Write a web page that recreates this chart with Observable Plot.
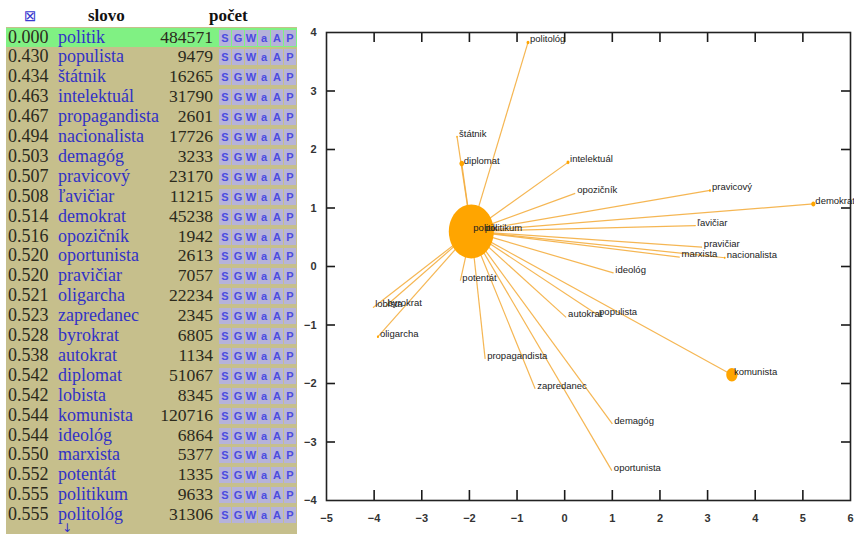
<!DOCTYPE html>
<html><head><meta charset="utf-8">
<script src="https://cdn.jsdelivr.net/npm/d3@7"></script>
<script src="https://cdn.jsdelivr.net/npm/@observablehq/plot@0.6"></script>
<style>
body{margin:0;background:#fff;}
#wrap{position:relative;width:854px;height:534px;overflow:hidden;background:#fff;}
#tbl{position:absolute;left:6px;top:0;width:291px;height:534px;font-family:"Liberation Serif","Times New Roman",serif;}
#head{position:absolute;left:0;top:0;width:291px;height:27px;background:#fff;}
#body{position:absolute;top:27px;left:0;width:291px;bottom:0;background:#c6bf8c;}
.row{position:absolute;left:0;width:291px;height:19.9px;font-size:18px;line-height:19.9px;}
.sc{position:absolute;left:2px;color:#2b2a1c;}
.wd{position:absolute;left:52px;color:#3232c6;}
.ct{position:absolute;left:130px;width:77px;text-align:right;color:#2b2a1c;font-size:17.6px;}
.bt{position:absolute;top:2px;width:12px;height:16px;background:#b6b3d9;color:#4b4be0;font:bold 11px/16px "Liberation Sans",Arial,sans-serif;text-align:center;}
.hd{position:absolute;top:6px;font-weight:bold;font-size:17px;color:#111;}
#chart{position:absolute;left:297px;top:0;}
</style>
</head><body>
<div id="wrap">
  <div id="tbl"><div id="head"></div><div id="body"></div></div>
  <div id="chart"></div>
</div>
<script>
// ---- data ----
const words = ["politik","populista","štátnik","intelektuál","propagandista","nacionalista","demagóg","pravicový","ľavičiar","demokrat","opozičník","oportunista","pravičiar","oligarcha","zapredanec","byrokrat","autokrat","diplomat","lobista","komunista","ideológ","marxista","potentát","politikum","politológ"];
const scores = ["0.000","0.430","0.434","0.463","0.467","0.494","0.503","0.507","0.508","0.514","0.516","0.520","0.520","0.521","0.523","0.528","0.538","0.542","0.542","0.544","0.544","0.550","0.552","0.555","0.555"];
const counts = [484571,9479,16265,31790,2601,17726,3233,23170,11215,45238,1942,2613,7057,22234,2345,6805,1134,51067,8345,120716,6864,5377,1335,9633,31306];
const posX = [-1.96,0.68,-2.26,0.07,-1.67,3.36,1.0,3.05,2.74,5.22,0.22,0.99,2.88,-3.92,-0.62,-3.76,0.03,-2.16,-4.02,3.51,1.02,2.41,-2.19,-1.72,-0.77];
const posY = [0.60,-0.82,2.22,1.78,-1.58,0.15,-2.69,1.30,0.70,1.07,1.25,-3.49,0.33,-1.20,-2.09,-0.68,-0.87,1.76,-0.70,-1.85,-0.11,0.16,-0.24,0.60,3.83];
const linkLetters = ["S","G","W","a","A","P"];
const xTicks = [-5,-4,-3,-2,-1,0,1,2,3,4,5,6];
const yTicks = [-4,-3,-2,-1,0,1,2,3,4];

// ---- table ----
const head = d3.select("#head");
head.append("div").attr("class","hd").style("left","18px").style("top","7px")
  .style("font-family","'DejaVu Sans',sans-serif").style("font-weight","normal").style("font-size","15px").style("color","#3a3ad0").text("⊠");
head.append("div").attr("class","hd").style("left","82px").text("slovo");
head.append("div").attr("class","hd").style("left","203px").text("počet");

const body = d3.select("#body");
words.forEach((w,i)=>{
  const r = body.append("div").attr("class","row").style("top",(0.5+i*19.9)+"px");
  if(i===0) r.style("background","#80f183");
  r.append("span").attr("class","sc").text(scores[i]);
  r.append("span").attr("class","wd").text(w);
  r.append("span").attr("class","ct").text(counts[i]);
  linkLetters.forEach((l,j)=>{
    r.append("span").attr("class","bt").style("left",(213+j*13)+"px").text(l);
  });
});
body.append("div").style("position","absolute").style("left","56px").style("top",(words.length*19.9-3)+"px")
  .style("font","12px/12px 'DejaVu Sans',sans-serif").style("color","#3232c6").text("↓");

// ---- chart ----
const W = 557, H = 534, mL = 29, mR = 4, mT = 32, mB = 34;
const fw = W - mL - mR, fh = H - mT - mB;
const data = words.map((w,i)=>({word:w,count:counts[i],x:posX[i],y:posY[i]}));
const ellipse = {draw(ctx,size){
  const r=Math.sqrt(size/Math.PI), rx=r*0.9, ry=r*1.08, k=0.5523;
  ctx.moveTo(rx,0);
  ctx.bezierCurveTo(rx,ry*k,rx*k,ry,0,ry);
  ctx.bezierCurveTo(-rx*k,ry,-rx,ry*k,-rx,0);
  ctx.bezierCurveTo(-rx,-ry*k,-rx*k,-ry,0,-ry);
  ctx.bezierCurveTo(rx*k,-ry,rx,-ry*k,rx,0);
  ctx.closePath();
}};
const fmt = d3.format("d");
const tk = {stroke:"#1a1a1a", strokeWidth:1.6};

const chart = Plot.plot({
  width:W, height:H,
  marginLeft:mL, marginRight:mR, marginTop:mT, marginBottom:mB,
  style:{fontFamily:"'Liberation Sans',Arial,sans-serif", background:"#fff", color:"#333"},
  x:{domain:[-5,6], label:null},
  y:{domain:[-4,4], label:null},
  r:{type:"linear", domain:[0,d3.max(counts)], range:[0,25]},
  marks:[
    Plot.link(data.slice(1),{x1:posX[0],y1:posY[0],x2:"x",y2:"y",stroke:"#f4ae40",strokeWidth:1.2,strokeOpacity:0.9}),
    Plot.dot(data,{x:"x",y:"y",r:"count",symbol:ellipse,fill:"#ffa500",stroke:"none"}),
    Plot.text(data,{x:"x",y:"y",text:"word",textAnchor:"start",dx:2,dy:-3,fontSize:9.5,fill:"#222"}),
    // inward ticks, mirrored on all four sides
    Plot.ruleX(xTicks.slice(1,-1),{x:d=>d,insetTop:fh-10,...tk}),
    Plot.ruleX(xTicks.slice(1,-1),{x:d=>d,insetBottom:fh-10,...tk}),
    Plot.ruleY(yTicks.slice(1,-1),{y:d=>d,insetRight:fw-9,...tk}),
    Plot.ruleY(yTicks.slice(1,-1),{y:d=>d,insetLeft:fw-9,...tk}),
    Plot.frame({stroke:"#222",strokeWidth:1.6}),
    // tick labels
    Plot.axisX(xTicks,{anchor:"bottom",label:null,tickSize:0,tickPadding:14,tickFormat:fmt,fontSize:11,fontWeight:"bold"}),
    Plot.axisY(yTicks,{anchor:"left",label:null,tickSize:0,tickPadding:10,tickFormat:fmt,fontSize:11,fontWeight:"bold"})
  ]
});
document.getElementById("chart").appendChild(chart);
</script>
</body></html>
